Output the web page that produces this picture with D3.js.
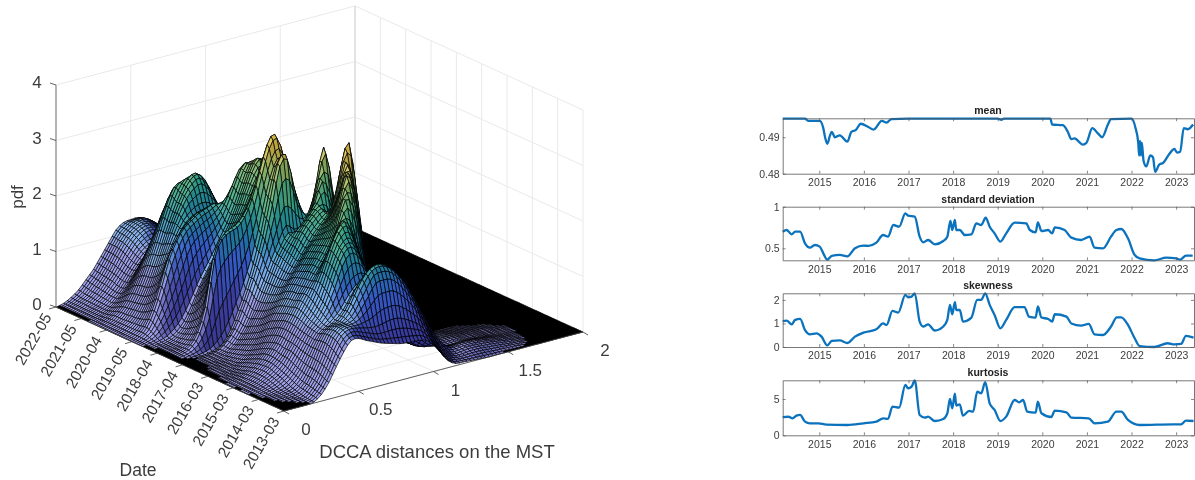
<!DOCTYPE html>
<html><head><meta charset="utf-8">
<script src="https://cdnjs.cloudflare.com/ajax/libs/d3/7.8.5/d3.min.js"></script>
<style>html,body{margin:0;padding:0;background:#fff}svg{display:block;filter:blur(.35px);font-family:"Liberation Sans",Arial,sans-serif}</style>
</head><body><svg id="c" width="1195" height="480"></svg>
<script>
// ---------- 3-D panel data ----------
const dateTicks=["2022-05","2021-05","2020-04","2019-05","2018-04","2017-04","2016-03","2015-03","2014-03","2013-03"];
const distTicks=[0,0.5,1,1.5,2];
const pdfTicks=[0,1,2,3,4];
const distStep=0.05, distColumns=41;
// one row per quarter, 2013-03 first; each row = pdf at distance 0, 0.05, 0.10 ... (missing tail = 0)
const pdfRows=[
[0,0,0,0,.02,.12,.3,.55,.78,.95,.95,.88,.82,.76,.72,.68,.65,.64,.63,.6,.48,.3,.12,.04,.03,.02,.01],
[0,0,0,.01,.03,.15,.35,.62,.9,1.05,1.08,1.05,1.02,1,1.02,1.05,1.05,1,.92,.82,.65,.42,.22,.1,.06,.06,.07,.07,.06,.05,.04,.03,.02,.01],
[0,0,.01,.02,.05,.18,.4,.68,.95,1.08,1.1,1.15,1.3,1.5,1.7,1.72,1.7,1.58,1.4,1.18,.92,.65,.38,.2,.1,.1,.12,.12,.11,.1,.08,.06,.04,.02],
[0,.01,.02,.04,.08,.2,.42,.7,.95,1.05,1.1,1.25,1.5,1.75,1.9,1.95,1.9,1.78,1.6,1.38,1.12,.85,.58,.35,.18,.12,.13,.14,.13,.11,.09,.07,.05,.03,.01],
[0,.01,.03,.06,.12,.25,.45,.7,.9,1,1.1,1.25,1.45,1.6,1.68,1.65,1.55,1.4,1.2,1,.78,.56,.36,.2,.1,.08,.08,.09,.09,.08,.07,.05,.04,.03,.01],
[0,.02,.05,.1,.18,.3,.5,.72,.92,1.05,1.25,1.55,1.9,2.1,2.05,1.8,1.45,1.15,.85,.6,.4,.25,.14,.08,.08,.09,.1,.1,.09,.08,.07,.05,.04,.03,.02],
[0,.03,.07,.14,.22,.35,.55,.75,.95,1.12,1.35,1.7,2.05,2.28,2.3,2.05,1.65,1.25,.9,.6,.38,.22,.12,.07,.07,.08,.09,.09,.08,.07,.06,.05,.04,.02,.01],
[0,.03,.08,.16,.26,.38,.55,.78,1,1.2,1.45,1.75,2.1,2.4,2.55,2.35,1.9,1.42,1,.65,.4,.22,.1,.05,.05,.06,.07,.07,.06,.05,.04,.03,.02,.01],
[0,.03,.08,.16,.26,.4,.58,.8,1.02,1.25,1.45,1.65,1.85,2.1,2.45,2.85,2.7,2.1,1.4,.9,.5,.26,.12,.12,.05,.04,.04,.04,.03,.03,.02,.01],
[0,.03,.07,.14,.24,.38,.55,.78,1,1.2,1.42,1.65,1.85,2.05,2.3,2.7,3.2,2.9,2,1.2,.7,.35,.15,.05,.01],
[0,.02,.05,.1,.2,.32,.5,.72,.95,1.18,1.4,1.6,1.8,2,2.2,2.45,2.9,3.3,2.6,1.7,1,.5,.22,.07,.02],
[0,.01,.03,.07,.15,.26,.42,.65,.9,1.12,1.35,1.55,1.75,1.95,2.1,2.3,2.55,3.25,3.62,2.7,1.6,.8,.35,.12,.03],
[0,.01,.02,.05,.1,.2,.35,.55,.8,1.02,1.25,1.45,1.65,1.85,2.05,2.2,2.35,2.55,2.75,2.25,1.4,.75,.35,.13,.04],
[0,.01,.02,.04,.08,.16,.3,.48,.7,.95,1.2,1.45,1.7,1.95,2.15,2.3,2.4,2.25,1.95,1.5,1,.55,.25,.08,.02],
[0,0,.01,.03,.06,.13,.25,.42,.65,.9,1.2,1.5,1.75,1.95,2.1,2.25,2.45,2.8,2.55,1.9,1.2,.62,.28,.1,.03],
[0,0,.01,.02,.05,.1,.2,.36,.6,.9,1.22,1.55,1.85,2.1,2,2,2.15,2.7,3.33,2.6,1.55,.8,.35,.12,.03],
[0,0,.01,.02,.05,.1,.22,.4,.68,1.02,1.4,1.85,2.45,3.1,3.2,2.6,2.2,1.95,1.85,1.6,1.2,.8,.45,.2,.07,.02],
[0,0,.01,.02,.05,.12,.26,.48,.78,1.1,1.5,2,2.6,3.05,3.2,2.9,2.35,1.9,1.6,1.25,.9,.55,.3,.13,.04,.01],
[0,.01,.04,.12,.32,.75,1.6,1.9,2,2.05,2.2,2.5,2.95,3.4,3.55,3.1,2.35,1.75,1.3,.95,.62,.36,.18,.07,.02],
[0,.01,.04,.1,.25,.55,1.05,1.45,1.7,1.85,2,2.2,2.5,2.8,2.85,2.6,2.15,1.7,1.3,.95,.65,.4,.2,.08,.02],
[0,.01,.03,.08,.2,.42,.8,1.15,1.4,1.6,1.8,2,2.25,2.55,2.7,2.55,2.15,1.7,1.25,.85,.55,.3,.14,.05,.01],
[0,.01,.03,.07,.16,.33,.62,.95,1.2,1.42,1.65,1.9,2.2,2.55,2.85,2.9,2.4,1.75,1.2,.75,.42,.2,.08,.02],
[0,.02,.05,.1,.2,.36,.6,.88,1.12,1.35,1.6,1.85,2.15,2.5,2.8,2.8,2.3,1.65,1.1,.65,.35,.15,.05,.01],
[0,.04,.12,.3,.55,.85,1.2,1.5,1.65,1.75,1.85,2,2.25,2.55,2.74,2.6,2.1,1.5,1,.6,.32,.15,.05,.01],
[0,.05,.18,.45,.85,1.3,1.6,1.8,1.9,2,2.05,2.1,2.05,2.05,2.25,2.25,1.85,1.3,.85,.5,.27,.12,.04,.01],
[0,.05,.16,.38,.7,1.05,1.35,1.6,1.8,1.9,1.95,1.95,1.9,1.85,1.75,1.5,1.15,.85,.55,.32,.16,.06,.02],
[0,.05,.15,.32,.58,.9,1.25,1.6,1.9,2.15,2.3,2.35,2.2,1.95,1.7,1.35,1,.7,.45,.25,.12,.04,.01],
[0,.05,.14,.3,.52,.82,1.18,1.55,1.9,2.2,2.42,2.49,2.35,2.05,1.7,1.32,.95,.65,.4,.22,.1,.03],
[0,.05,.13,.28,.5,.8,1.15,1.55,1.95,2.25,2.3,2.15,1.9,1.6,1.3,1,.72,.48,.3,.16,.07,.02],
[0,.05,.13,.26,.46,.72,1.02,1.35,1.68,1.9,1.98,1.9,1.72,1.48,1.2,.92,.68,.46,.28,.15,.06,.02],
[0,.04,.1,.2,.36,.56,.8,1.05,1.25,1.38,1.42,1.38,1.25,1.08,.88,.68,.5,.34,.2,.1,.04,.01],
[0,.03,.08,.15,.27,.42,.6,.78,.92,1,1.02,1,.92,.8,.66,.52,.38,.26,.15,.08,.03,.01],
[0,.03,.08,.15,.26,.4,.58,.76,.92,1.02,1.06,1.05,.98,.88,.75,.6,.45,.32,.2,.11,.05,.02],
[0,.03,.08,.16,.28,.44,.62,.82,1,1.12,1.18,1.16,1.08,.96,.82,.66,.5,.35,.22,.12,.06,.02],
[0,.03,.09,.17,.3,.46,.66,.88,1.06,1.18,1.24,1.22,1.14,1.02,.88,.7,.53,.37,.24,.13,.07,.03,.01],
[0,.03,.09,.18,.32,.48,.68,.9,1.08,1.2,1.26,1.26,1.18,1.06,.92,.74,.55,.38,.24,.14,.08,.04,.02],
[0,.03,.1,.2,.35,.5,.7,.9,1.1,1.2,1.22,1.22,1.15,1.05,.9,.7,.5,.3,.18,.1,.05,.02]
];
// ---------- right-hand panels data (year) ----------
const yearTicks=[2015,2016,2017,2018,2019,2020,2021,2022,2023];
const meanYears=[2014.18,2014.68,2014.75,2015.01,2015.09,2015.13,2015.18,2015.24,2015.28,2015.35,2015.46,2015.63,2015.72,2015.82,2015.93,2016.10,2016.22,2016.40,2016.51,2016.62,2017,2018,2019,2019.08,2019.14,2020,2020.18,2020.22,2020.46,2020.57,2020.65,2020.72,2020.91,2020.99,2021.12,2021.25,2021.34,2021.47,2021.54,2022,2022.09,2022.15,2022.17,2022.19,2022.21,2022.23,2022.27,2022.33,2022.42,2022.48,2022.53,2022.62,2022.71,2022.85,2022.96,2023.02,2023.09,2023.17,2023.26,2023.38];
const meanValues=[.4951,.4951,.4945,.4945,.4925,.49,.4882,.4905,.4915,.49,.4905,.4888,.4915,.492,.4937,.4928,.4921,.4945,.494,.495,.4951,.4951,.4951,.4948,.4951,.4951,.4951,.4935,.4933,.4915,.4895,.4897,.488,.4885,.4925,.491,.49,.4935,.495,.4951,.4925,.4885,.485,.489,.485,.4885,.4835,.482,.485,.4845,.4805,.4825,.483,.4855,.4868,.4858,.486,.4925,.4922,.4935];
const stdYears=[2014.18,2014.27,2014.38,2014.46,2014.57,2014.68,2014.79,2014.90,2015.01,2015.09,2015.18,2015.28,2015.46,2015.63,2015.80,2015.99,2016.10,2016.28,2016.43,2016.54,2016.66,2016.79,2016.93,2016.99,2017.14,2017.25,2017.33,2017.44,2017.59,2017.78,2017.87,2017.94,2017.98,2018.04,2018.07,2018.15,2018.26,2018.41,2018.52,2018.63,2018.73,2018.82,2018.93,2019.06,2019.19,2019.38,2019.64,2019.72,2019.85,2019.90,2019.98,2020.13,2020.22,2020.28,2020.50,2020.65,2020.87,2021.06,2021.17,2021.36,2021.54,2021.66,2021.77,2021.92,2022.07,2022.18,2022.51,2022.78,2023.00,2023.09,2023.22,2023.37];
const stdValues=[.70,.72,.668,.70,.70,.56,.508,.54,.52,.44,.364,.41,.42,.404,.50,.532,.53,.568,.66,.64,.78,.76,.92,.892,.88,.64,.572,.60,.548,.588,.64,.828,.72,.84,.72,.72,.66,.668,.80,.78,.868,.76,.68,.58,.68,.808,.80,.72,.692,.812,.708,.72,.68,.752,.72,.628,.60,.64,.508,.50,.64,.72,.732,.62,.42,.38,.356,.388,.38,.364,.412,.412];
const skewYears=[2014.18,2014.27,2014.38,2014.46,2014.57,2014.68,2014.79,2014.94,2015.05,2015.18,2015.28,2015.46,2015.63,2015.80,2015.99,2016.28,2016.43,2016.51,2016.64,2016.77,2016.93,2016.99,2017.07,2017.14,2017.25,2017.33,2017.44,2017.59,2017.78,2017.87,2017.93,2017.98,2018.04,2018.07,2018.15,2018.22,2018.41,2018.54,2018.63,2018.72,2018.82,2018.93,2019.06,2019.19,2019.38,2019.60,2019.70,2019.85,2019.90,2019.98,2020.13,2020.22,2020.28,2020.54,2020.65,2020.87,2021.04,2021.17,2021.36,2021.54,2021.67,2021.77,2021.92,2022.07,2022.18,2022.51,2022.81,2022.96,2023.11,2023.22,2023.39];
const skewValues=[1.10,1.12,.96,1.15,1.19,.72,.54,.58,.44,.07,.26,.28,.17,.44,.61,.75,1.0,.94,1.53,1.46,2.21,2.11,2.14,2.28,1.08,.87,.96,.70,.87,1.15,1.79,1.39,1.90,1.57,1.57,1.08,1.25,2.0,2.0,2.28,1.79,1.36,.79,1.15,1.69,1.69,1.29,1.25,1.72,1.25,1.19,1.08,1.39,1.29,1.0,.91,.98,.54,.51,.87,1.26,1.26,.94,.37,.04,0,.16,.11,.13,.47,.40];
const kurtYears=[2014.18,2014.31,2014.40,2014.49,2014.57,2014.68,2014.79,2014.98,2015.16,2015.63,2015.99,2016.28,2016.43,2016.54,2016.64,2016.79,2016.93,2016.99,2017.07,2017.14,2017.25,2017.37,2017.44,2017.59,2017.78,2017.87,2017.93,2017.98,2018.04,2018.07,2018.15,2018.22,2018.36,2018.45,2018.54,2018.63,2018.72,2018.82,2018.93,2019.06,2019.19,2019.38,2019.48,2019.57,2019.66,2019.85,2019.90,2019.98,2020.20,2020.28,2020.54,2020.65,2021.04,2021.17,2021.47,2021.66,2021.77,2021.92,2022.18,2022.93,2023.11,2023.22,2023.39];
const kurtValues=[2.5,2.55,2.34,2.7,2.8,1.88,1.65,1.65,1.47,1.42,1.65,1.88,2.34,2.25,3.94,3.8,6.93,6.47,6.7,7.57,2.8,2.43,2.57,1.97,2.25,3.03,5,3.7,5.73,4.1,4.27,2.7,3.35,3.26,6.0,5.78,7.3,4.4,3.49,1.97,2.57,4.86,4.54,4.86,3.26,3.12,4.63,3.03,2.52,3.39,3.17,2.43,2.34,1.65,1.88,3.26,3.26,2.11,1.42,1.51,1.51,2.02,1.97];

const svg=d3.select("#c");
const ink="#3c3c3c";
// ---------- projection through linear scales ----------
const corner={x:284,y:411}, xVec={x:299,y:-79}, tVec={x:-228,y:-104}, zUnit=55.5;
const distFrac=d3.scaleLinear().domain([0,2]).range([0,1]);
const zPx=d3.scaleLinear().domain([0,1]).range([0,zUnit]);
const proj=(d,t,z)=>{const f=distFrac(d);return [corner.x+xVec.x*f+tVec.x*t, corner.y+xVec.y*f+tVec.y*t-zPx(z)];};
const tickT=d3.scalePoint().domain(dateTicks).range([1,0]);

// walls and floor grid
const grid=svg.append("g").attr("fill","none").attr("stroke","#e9e9e9").attr("stroke-width",1);
const seg=(g,a,b,c)=>{const l=g.append("line").attr("x1",a[0]).attr("y1",a[1]).attr("x2",b[0]).attr("y2",b[1]);if(c)l.attr("stroke",c);return l;};
pdfTicks.forEach(z=>{seg(grid,proj(0,1,z),proj(2,1,z));seg(grid,proj(2,1,z),proj(2,0,z));});
distTicks.forEach(d=>{seg(grid,proj(d,1,0),proj(d,1,4));seg(grid,proj(d,0,0),proj(d,1,0));});
dateTicks.forEach(k=>{const t=tickT(k);seg(grid,proj(2,t,0),proj(2,t,4));seg(grid,proj(0,t,0),proj(2,t,0));});
seg(grid,proj(2,1,0),proj(2,1,4),"#d8d8d8");

// rendering mesh: smooth the read rows with a cubic through the read values
const cr=(a,i,u)=>{const n=a.length,p=j=>a[Math.max(0,Math.min(n-1,j))],p0=p(i-1),p1=p(i),p2=p(i+1),p3=p(i+2);
  return Math.max(0,.5*(2*p1+(p2-p0)*u+(2*p0-5*p1+4*p2-p3)*u*u+(3*p1-p0-3*p2+p3)*u*u*u));};
const full=pdfRows.map(r=>d3.range(distColumns).map(i=>i<r.length?r[i]:0));
const subX=2,subT=3;
const fineCols=(distColumns-1)*subX+1;
const fineX=full.map(r=>d3.range(fineCols).map(i=>{const b=Math.min(Math.floor(i/subX),distColumns-2);return cr(r,b,i/subX-b);}));
const fineRows=(full.length-1)*subT+1;
const Z=d3.range(fineRows).map(j=>{const b=Math.min(Math.floor(j/subT),full.length-2);
  return d3.range(fineCols).map(i=>cr(fineX.map(r=>r[i]),b,j/subT-b));});
const dFine=distStep/subX, tFine=1/(fineRows-1);

const lightCol=d3.scaleLinear().domain([0,.85,1.05,1.5,1.75,2.3,2.9,3.3,3.65])
  .range(["#a2a2ec","#9c9ee8","#8fb6ee","#72aee6","#3f9fb0","#56b48e","#9cc078","#e0cc68","#f2d85c"]);
const darkCol=d3.scaleLinear().domain([0,.9,1.5,1.9,2.4,2.9,3.3,3.65])
  .range(["#2a2a7e","#2c2f96","#2c4fc0","#1b6f96","#1f8f82","#5d9a5e","#b09a3c","#d0b040"]);
const Lv=[-.7,.45,.55];
let zeroPath="";
const facets=[];
for(let j=fineRows-2;j>=0;j--){for(let i=fineCols-2;i>=0;i--){
  const a=Z[j][i],b=Z[j][i+1],c=Z[j+1][i+1],e=Z[j+1][i];
  const d0=i*dFine,d1=(i+1)*dFine,t0=j*tFine,t1=(j+1)*tFine;
  const P=[proj(d0,t0,a),proj(d1,t0,b),proj(d1,t1,c),proj(d0,t1,e)];
  const path="M"+P.map(p=>p[0].toFixed(1)+","+p[1].toFixed(1)).join("L")+"Z";
  if(Math.max(a,b,c,e)<.012){zeroPath+=path;continue;}
  const zx=((b+c)-(a+e))/2/dFine*zUnit/155, zt=((c+e)-(a+b))/2/tFine*zUnit/250;
  const m=Math.hypot(zx,zt,1), lit=(-zx*Lv[0]-zt*Lv[1]+Lv[2])/m;
  const area=(P[2][0]-P[0][0])*(P[3][1]-P[1][1])-(P[3][0]-P[1][0])*(P[2][1]-P[0][1]);
  const mz=(a+b+c+e)/4;
  const s=area>0?.05:Math.max(.12,Math.min(1,(lit+.1)/.7));
  facets.push({path,fill:d3.interpolateRgb(darkCol(mz),lightCol(mz))(s)});
}}
svg.append("path").attr("d",zeroPath).attr("fill","#000").attr("stroke","#000").attr("stroke-width",.5);
svg.append("g").attr("stroke","#000").attr("stroke-width",.75).attr("stroke-opacity",.92)
  .selectAll("path").data(facets).join("path").attr("d",d=>d.path).attr("fill",d=>d.fill);

// 3-D axes
const axisG=svg.append("g").attr("stroke",ink).attr("stroke-width",.8).attr("fill","none");
seg(axisG,proj(0,1,0),proj(0,0,0));
seg(axisG,proj(0,0,0),proj(2,0,0));
seg(axisG,proj(0,1,0),proj(0,1,4),"#8a8a8a").attr("stroke-width",1.2);
const labelG=svg.append("g").attr("fill",ink);
pdfTicks.forEach(z=>{const p=proj(0,1,z);seg(axisG,p,[p[0]-6,p[1]-2]);
  labelG.append("text").attr("x",p[0]-19).attr("y",p[1]+3).attr("text-anchor","middle").attr("font-size",17).text(z);});
dateTicks.forEach(k=>{const p=proj(0,tickT(k),0);seg(axisG,p,[p[0]-7,p[1]+2]);
  labelG.append("text").attr("transform",`translate(${p[0]-4},${p[1]+10}) rotate(-60)`).attr("text-anchor","end").attr("font-size",15.5).text(k);});
distTicks.forEach(d=>{const p=proj(d,0,0);seg(axisG,p,[p[0]+5,p[1]+3]);
  labelG.append("text").attr("x",p[0]+22).attr("y",p[1]+24).attr("text-anchor","middle").attr("font-size",17).text(d);});
labelG.append("text").attr("transform","translate(23,197) rotate(-90)").attr("text-anchor","middle").attr("font-size",17).text("pdf");
labelG.append("text").attr("x",437).attr("y",458).attr("text-anchor","middle").attr("font-size",18.5).text("DCCA distances on the MST");
labelG.append("text").attr("x",138).attr("y",476).attr("text-anchor","middle").attr("font-size",17.5).text("Date");

// ---------- right panels ----------
const left=782.7,right=1194;
const xs=d3.scaleLinear().domain([2014.18,2023.40]).range([left,right]);
const panels=[
 {title:"mean",top:118.3,bottom:173.7,dom:[.48,.4952],ticks:[.48,.49],fmt:d3.format(".2f"),xv:meanYears,yv:meanValues},
 {title:"standard deviation",top:206.7,bottom:260.3,dom:[.356,1],ticks:[.5,1],fmt:d=>d,xv:stdYears,yv:stdValues},
 {title:"skewness",top:293.3,bottom:347,dom:[0,2.28],ticks:[0,1,2],fmt:d=>d,xv:skewYears,yv:skewValues},
 {title:"kurtosis",top:380.3,bottom:435.3,dom:[0,7.57],ticks:[0,5],fmt:d=>d,xv:kurtYears,yv:kurtValues}
];
panels.forEach(p=>{
  const y=d3.scaleLinear().domain(p.dom).range([p.bottom,p.top]);
  const g=svg.append("g");
  const line=d3.line().x(i=>xs(p.xv[i])).y(i=>y(p.yv[i])).curve(d3.curveMonotoneX);
  g.append("path").attr("d",line(d3.range(p.xv.length))).attr("fill","none").attr("stroke","#0b72bd").attr("stroke-width",2.3).attr("stroke-linejoin","round");
  const ax=(sel,a)=>{sel.call(a);sel.select(".domain").attr("stroke","#555").attr("stroke-width",.8);
    sel.selectAll(".tick line").attr("stroke","#555").attr("stroke-width",.7);
    sel.selectAll("text").attr("fill",ink).attr("font-size",10.5).attr("font-family","Liberation Sans");};
  g.append("g").attr("transform",`translate(0,${p.bottom})`).call(s=>ax(s,d3.axisBottom(xs).tickValues(yearTicks).tickFormat(d3.format("d")).tickSize(-3).tickSizeOuter(0).tickPadding(5)));
  g.append("g").attr("transform",`translate(0,${p.top})`).call(s=>ax(s,d3.axisTop(xs).tickValues(yearTicks).tickFormat("").tickSize(-3).tickSizeOuter(0)));
  g.append("g").attr("transform",`translate(${left},0)`).call(s=>ax(s,d3.axisLeft(y).tickValues(p.ticks).tickFormat(p.fmt).tickSize(-3).tickSizeOuter(0).tickPadding(3)));
  g.append("g").attr("transform",`translate(${right},0)`).call(s=>ax(s,d3.axisRight(y).tickValues(p.ticks).tickFormat("").tickSize(-3).tickSizeOuter(0)));
  g.append("text").attr("x",988).attr("y",p.top-4).attr("text-anchor","middle").attr("font-size",10.5).attr("font-weight","bold").attr("fill","#222").text(p.title);
});
</script></body></html>
